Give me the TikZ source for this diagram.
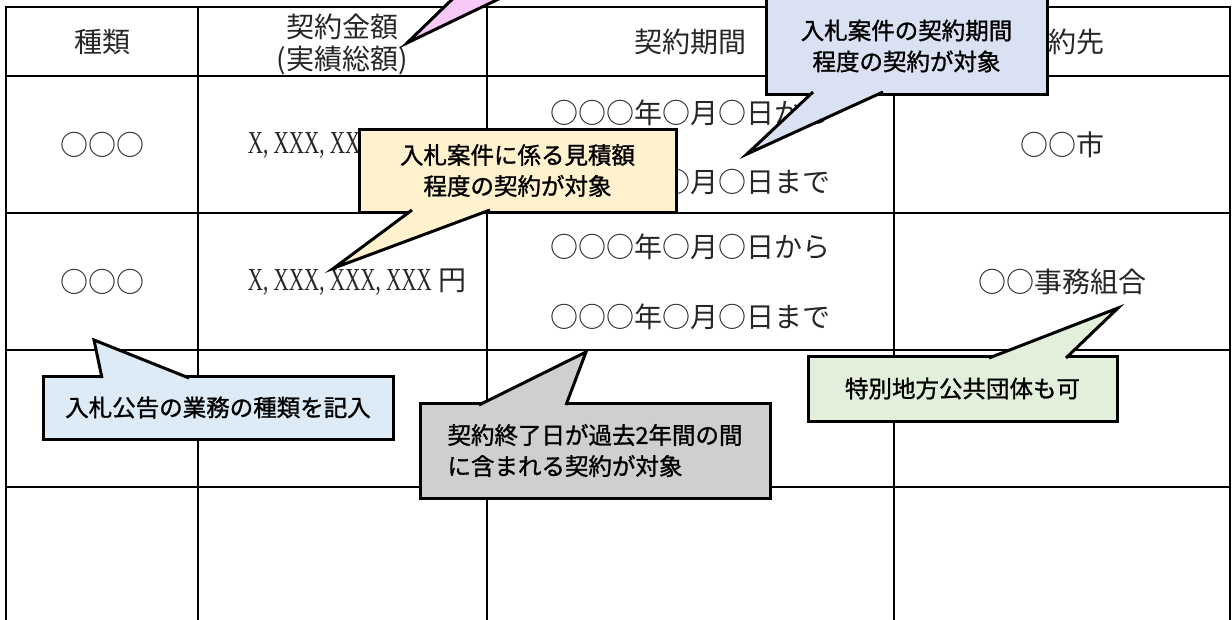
\documentclass[tikz,border=0pt]{standalone}
\usepackage{fontspec}
\setmainfont{Noto Sans CJK JP}
\newfontfamily\latinfont{Liberation Serif}[FakeStretch=0.66]
\newfontfamily\notefont{Noto Sans CJK JP}[FakeBold=1.2]
\usepackage{tikz}
\usetikzlibrary{positioning, calc}
\definecolor{notepink}{RGB}{248,200,246}
\definecolor{noteblue}{RGB}{218,225,242}
\definecolor{noteyellow}{RGB}{255,242,204}
\definecolor{notesky}{RGB}{221,235,247}
\definecolor{notegray}{RGB}{208,206,206}
\definecolor{notegreen}{RGB}{226,239,218}

\begin{document}
\begin{tikzpicture}[x=1pt, y=-1pt]
        \tikzstyle{tableline} = [draw=black, line width=2.4pt, line cap=rect]
        \tikzstyle{celltext} = [font=\fontsize{28}{32}\selectfont, text=black!85, align=center, inner sep=0pt]
        \tikzstyle{notebox} = [rectangle, draw=black, line width=3pt, outer sep=0pt, inner sep=0pt, align=center, font=\notefont\fontsize{23.5}{31}\selectfont]
        \tikzstyle{notetip} = [draw=black, line width=3pt]

        \useasboundingbox (0,0) rectangle (1232,619);
        \clip (0,0) rectangle (1232,619);

        \foreach \y in {7,76,213,350,487}
            \draw[tableline] (6,\y) -- (1230,\y);
        \foreach \x in {6,198,487,894,1230}
            \draw[tableline] (\x,7) -- (\x,625);

        \node[celltext] (hkind) at (102,42) {種類};
        \node[celltext] (hamount) at (342,44) {契約金額\\(実績総額)};
        \node[celltext] (hperiod) at (690,42) {契約期間};
        \node[celltext] (hparty) at (1062,42) {契約先};

        \node[celltext] (kindone) at (102,145) {○○○};
        \node[celltext] (amountone) at (357,145) {{\latinfont\fontsize{32}{32}\selectfont X, XXX, XXX, XXX} 円};
        \node[celltext] (fromone) at (690,113) {○○○年○月○日から};
        \node[celltext] (toone) at (690,182) {○○○年○月○日まで};
        \node[celltext] (partyone) at (1062,145) {○○市};

        \node[celltext] (kindtwo) at (102,282) {○○○};
        \node[celltext] (amounttwo) at (357,282) {{\latinfont\fontsize{32}{32}\selectfont X, XXX, XXX, XXX} 円};
        \node[celltext] (fromtwo) at (690,247) {○○○年○月○日から};
        \node[celltext] (totwo) at (690,317) {○○○年○月○日まで};
        \node[celltext] (partytwo) at (1062,282) {○○事務組合};

        \node[notebox, fill=notepink, minimum width=300pt, minimum height=50pt] (npink) at (600,-40) {};
        \coordinate (tpink) at (407,43);
        \draw[notetip, fill=notepink] ([xshift=19pt, yshift=2pt]npink.south west) -- (tpink) -- ([xshift=82pt, yshift=2pt]npink.south west);

        \node[notebox, fill=noteblue, minimum width=281pt, minimum height=96pt] (nblue) at (906.5,46) {入札案件の契約期間\\程度の契約が対象};
        \coordinate (tblue) at (747,154);
        \draw[notetip, fill=noteblue] ([xshift=47pt, yshift=2pt]nblue.south west) -- (tblue) -- ([xshift=117pt, yshift=2pt]nblue.south west);

        \node[notebox, fill=noteyellow, minimum width=317pt, minimum height=83pt] (nyellow) at (517.5,170.5) {入札案件に係る見積額\\程度の契約が対象};
        \coordinate (tyellow) at (334,268);
        \draw[notetip, fill=noteyellow] ([xshift=53pt, yshift=2pt]nyellow.south west) -- (tyellow) -- ([xshift=131pt, yshift=2pt]nyellow.south west);

        \node[notebox, fill=notesky, minimum width=350pt, minimum height=63pt] (nsky) at (218,407.5) {入札公告の業務の種類を記入};
        \coordinate (tsky) at (94,340);
        \draw[notetip, fill=notesky] ([xshift=59pt, yshift=-2pt]nsky.north west) -- (tsky) -- ([xshift=146pt, yshift=-2pt]nsky.north west);

        \node[notebox, fill=notegray, align=left, minimum width=350pt, minimum height=95pt] (ngray) at (595,450.5) {契約終了日が過去2年間の間\\に含まれる契約が対象};
        \coordinate (tgray) at (586,352);
        \draw[notetip, fill=notegray] ([xshift=59pt, yshift=-2pt]ngray.north west) -- (tgray) -- ([xshift=146pt, yshift=-2pt]ngray.north west);

        \node[notebox, fill=notegreen, minimum width=309pt, minimum height=65pt] (ngreen) at (962.5,388.5) {特別地方公共団体も可};
        \coordinate (tgreen) at (1118,308);
        \draw[notetip, fill=notegreen] ([xshift=181pt, yshift=-2pt]ngreen.north west) -- (tgreen) -- ([xshift=258pt, yshift=-2pt]ngreen.north west);

    \end{tikzpicture}
\end{document}
